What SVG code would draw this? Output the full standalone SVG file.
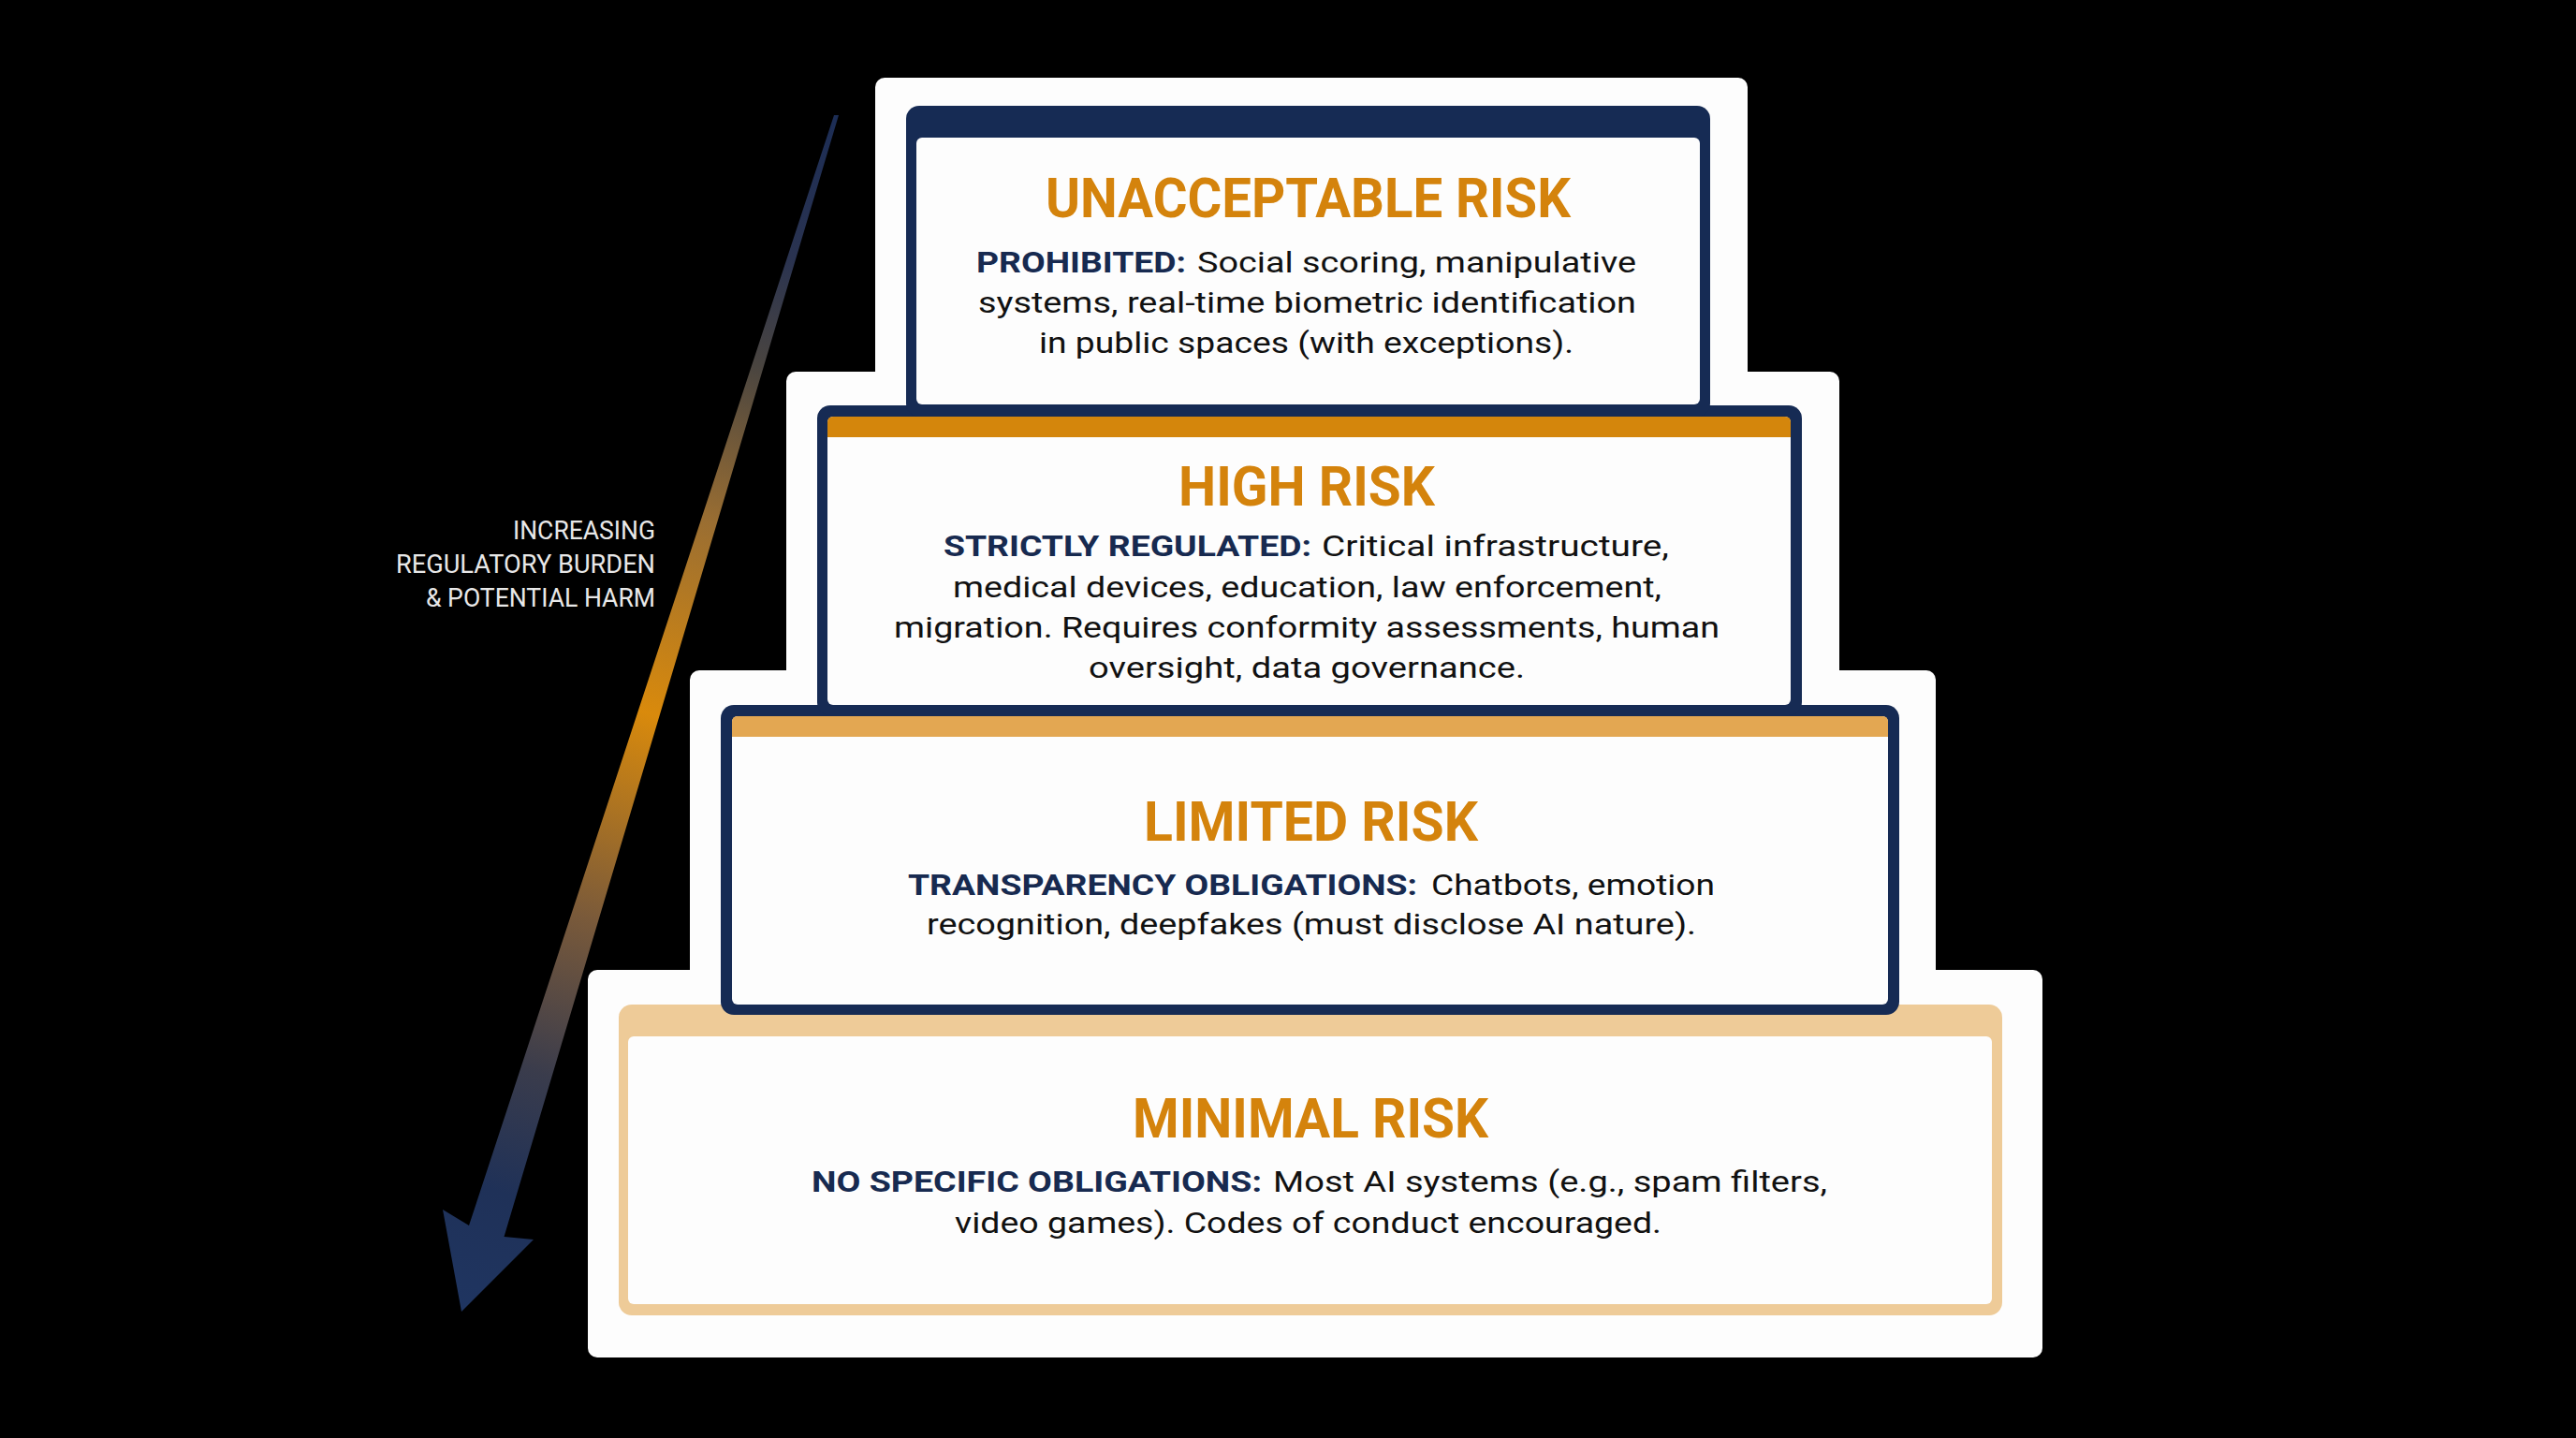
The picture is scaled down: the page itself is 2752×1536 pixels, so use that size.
<svg xmlns="http://www.w3.org/2000/svg" width="2752" height="1536" viewBox="0 0 2752 1536">
<style>
.bg{fill:#000}
.tier{fill:#fdfdfd}
.navy{fill:#162b54}
.white{fill:#fdfdfd}
.tan{fill:#eecb98}
.t{font-family:Roboto,"Liberation Sans",sans-serif}
.title{font-weight:700;font-size:59px;fill:#d4830c}
.body{font-size:32px;fill:#111}
.lbl{font-weight:700;fill:#172a50}
.side{font-size:28px;fill:#e8e8e8}
</style>
<defs>
<linearGradient id="arrowGrad" gradientUnits="userSpaceOnUse" x1="893" y1="123" x2="493" y2="1401">
<stop offset="0" stop-color="#1c2d55"/>
<stop offset="0.12" stop-color="#2a3350"/>
<stop offset="0.21" stop-color="#4a4540"/>
<stop offset="0.34" stop-color="#9a6e32"/>
<stop offset="0.5" stop-color="#d98a0c"/>
<stop offset="0.67" stop-color="#7a5a3a"/>
<stop offset="0.8" stop-color="#3a3c4c"/>
<stop offset="0.9" stop-color="#1f3158"/>
<stop offset="1" stop-color="#1f3561"/>
</linearGradient>
</defs>
<rect class="bg" x="0" y="0" width="2752" height="1536"/>
<g id="tiers">
<rect class="tier" x="935" y="83" width="932" height="1367" rx="10"/>
<rect class="tier" x="840" y="397" width="1125" height="1053" rx="10"/>
<rect class="tier" x="737" y="716" width="1331" height="734" rx="10"/>
<rect class="tier" x="628" y="1036" width="1554" height="414" rx="10"/>
</g>
<g id="minimal">
<rect class="tan" x="661" y="1073" width="1478" height="332" rx="14"/>
<rect class="white" x="671" y="1107" width="1457" height="286" rx="6"/>
<text class="t title" x="1210" y="1215" textLength="380" lengthAdjust="spacingAndGlyphs">MINIMAL RISK</text>
<text class="t body" y="1273"><tspan class="lbl" x="867" textLength="481" lengthAdjust="spacingAndGlyphs">NO SPECIFIC OBLIGATIONS:</tspan><tspan x="1360" textLength="592" lengthAdjust="spacingAndGlyphs">Most AI systems (e.g., spam filters,</tspan></text>
<text class="t body" x="1020" y="1317" textLength="755" lengthAdjust="spacingAndGlyphs">video games). Codes of conduct encouraged.</text>
</g>
<g id="limited">
<rect class="navy" x="770" y="753" width="1259" height="331" rx="14"/>
<rect class="white" x="782" y="765" width="1235" height="308" rx="6"/>
<path fill="#e3a752" d="M782,787 V771 Q782,765 788,765 H2011 Q2017,765 2017,771 V787 Z"/>
<text class="t title" x="1222" y="898" textLength="357" lengthAdjust="spacingAndGlyphs">LIMITED RISK</text>
<text class="t body" y="956"><tspan class="lbl" x="970" textLength="544" lengthAdjust="spacingAndGlyphs">TRANSPARENCY OBLIGATIONS:</tspan><tspan x="1529" textLength="303" lengthAdjust="spacingAndGlyphs">Chatbots, emotion</tspan></text>
<text class="t body" x="990" y="998" textLength="822" lengthAdjust="spacingAndGlyphs">recognition, deepfakes (must disclose AI nature).</text>
</g>
<g id="high">
<rect class="navy" x="873" y="433" width="1052" height="331" rx="14"/>
<rect class="white" x="884" y="445" width="1029" height="308" rx="6"/>
<path fill="#d4860c" d="M884,467 V451 Q884,445 890,445 H1907 Q1913,445 1913,451 V467 Z"/>
<text class="t title" x="1259" y="540" textLength="274" lengthAdjust="spacingAndGlyphs">HIGH RISK</text>
<text class="t body" y="594"><tspan class="lbl" x="1008" textLength="393" lengthAdjust="spacingAndGlyphs">STRICTLY REGULATED:</tspan><tspan x="1412" textLength="371" lengthAdjust="spacingAndGlyphs">Critical infrastructure,</tspan></text>
<text class="t body" x="1018" y="638" textLength="757" lengthAdjust="spacingAndGlyphs">medical devices, education, law enforcement,</text>
<text class="t body" x="955" y="681" textLength="882" lengthAdjust="spacingAndGlyphs">migration. Requires conformity assessments, human</text>
<text class="t body" x="1163" y="724" textLength="466" lengthAdjust="spacingAndGlyphs">oversight, data governance.</text>
</g>
<g id="unacceptable">
<rect class="navy" x="968" y="113" width="859" height="332" rx="14"/>
<rect class="white" x="979" y="147" width="837" height="285" rx="6"/>
<text class="t title" x="1117" y="232" textLength="561" lengthAdjust="spacingAndGlyphs">UNACCEPTABLE RISK</text>
<text class="t body" y="291"><tspan class="lbl" x="1043" textLength="224" lengthAdjust="spacingAndGlyphs">PROHIBITED:</tspan><tspan x="1279" textLength="469" lengthAdjust="spacingAndGlyphs">Social scoring, manipulative</tspan></text>
<text class="t body" x="1045" y="334" textLength="703" lengthAdjust="spacingAndGlyphs">systems, real-time biometric identification</text>
<text class="t body" x="1110" y="377" textLength="571" lengthAdjust="spacingAndGlyphs">in public spaces (with exceptions).</text>
</g>
<g id="arrow-label">
<text class="t side" x="548" y="576" textLength="152" lengthAdjust="spacingAndGlyphs">INCREASING</text>
<text class="t side" x="423" y="612" textLength="277" lengthAdjust="spacingAndGlyphs">REGULATORY BURDEN</text>
<text class="t side" x="455" y="648" textLength="245" lengthAdjust="spacingAndGlyphs">&amp; POTENTIAL HARM</text>
</g>
<g id="connectors">
<polygon fill="url(#arrowGrad)" points="891,123 896,123 538.5,1321 570,1324 493,1401 473,1292 501,1309"/>
</g>
</svg>
